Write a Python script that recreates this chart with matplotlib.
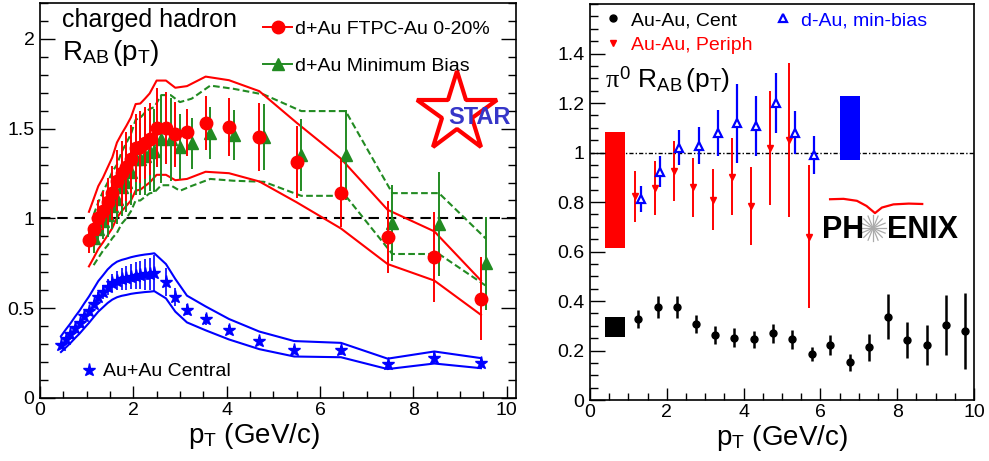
import numpy as np
import matplotlib
matplotlib.use("Agg")
import matplotlib.pyplot as plt
from matplotlib.lines import Line2D
from matplotlib.ticker import MultipleLocator, FixedLocator, FuncFormatter

plt.rcParams["font.family"] = ["Liberation Sans", "DejaVu Sans"]
plt.rcParams["mathtext.fontset"] = "custom"
plt.rcParams["mathtext.rm"] = "Liberation Sans"
plt.rcParams["mathtext.it"] = "Liberation Serif"

# --- STAR: d+Au FTPC-Au 0-20% (red circles) ---
ftpc_pt = [1.05, 1.15, 1.25, 1.35, 1.45, 1.55, 1.65, 1.75, 1.85, 1.95, 2.05, 2.15, 2.25,
           2.35, 2.5, 2.7, 2.9, 3.15, 3.55, 4.05, 4.7, 5.5, 6.45, 7.45, 8.45, 9.45]
ftpc_r = [0.880, 0.943, 1.004, 1.044, 1.093, 1.141, 1.211, 1.252, 1.289, 1.330, 1.393, 1.396,
          1.419, 1.443, 1.505, 1.505, 1.468, 1.479, 1.530, 1.510, 1.454, 1.316, 1.140, 0.898,
          0.787, 0.553]
ftpc_err = [0.075, 0.085, 0.10, 0.11, 0.13, 0.15, 0.17, 0.18, 0.19, 0.19, 0.19, 0.20, 0.20,
            0.20, 0.22, 0.20, 0.18, 0.13, 0.15, 0.16, 0.19, 0.20, 0.19, 0.20, 0.25, 0.23]
ftpc_hi = [1.037, 1.108, 1.180, 1.227, 1.284, 1.340, 1.423, 1.471, 1.515, 1.563, 1.637, 1.640,
           1.667, 1.696, 1.768, 1.768, 1.728, 1.737, 1.790, 1.770, 1.709, 1.533, 1.333, 1.048,
           0.928, 0.654]
ftpc_lo = [0.733, 0.780, 0.830, 0.866, 0.906, 0.946, 1.005, 1.040, 1.070, 1.100, 1.155, 1.160,
           1.180, 1.200, 1.243, 1.243, 1.213, 1.220, 1.260, 1.252, 1.206, 1.090, 0.944, 0.746,
           0.654, 0.463]

# --- STAR: d+Au minimum bias (green triangles) ---
mb_pt = [1.15, 1.25, 1.35, 1.45, 1.55, 1.65, 1.75, 1.85, 1.95, 2.05, 2.15, 2.25, 2.35, 2.45,
         2.6, 2.8, 3.0, 3.25, 3.65, 4.15, 4.8, 5.6, 6.55, 7.55, 8.55, 9.55]
mb_r = [0.889, 0.940, 0.983, 1.019, 1.071, 1.108, 1.173, 1.205, 1.257, 1.331, 1.331, 1.350,
        1.372, 1.378, 1.440, 1.440, 1.400, 1.418, 1.478, 1.463, 1.454, 1.355, 1.352, 0.975,
        0.970, 0.750]
mb_err = [0.08, 0.09, 0.10, 0.12, 0.13, 0.14, 0.16, 0.17, 0.18, 0.20, 0.20, 0.22, 0.22, 0.23,
          0.24, 0.23, 0.18, 0.14, 0.145, 0.14, 0.185, 0.20, 0.25, 0.21, 0.29, 0.26]
mb_hi = [1.02, 1.09, 1.15, 1.20, 1.26, 1.30, 1.37, 1.42, 1.47, 1.55, 1.56, 1.59, 1.61, 1.62,
         1.687, 1.687, 1.648, 1.667, 1.740, 1.722, 1.690, 1.598, 1.598, 1.141, 1.141, 0.889]
mb_lo = [0.74, 0.78, 0.82, 0.85, 0.89, 0.92, 0.97, 1.00, 1.04, 1.10, 1.10, 1.12, 1.14, 1.145,
         1.185, 1.185, 1.154, 1.181, 1.220, 1.210, 1.204, 1.126, 1.126, 0.802, 0.802, 0.626]

# --- STAR: Au+Au central (blue stars) ---
auau_pt = [0.45, 0.55, 0.65, 0.75, 0.85, 0.95, 1.05, 1.15, 1.25, 1.35, 1.45, 1.55, 1.65, 1.75,
           1.85, 1.95, 2.05, 2.15, 2.25, 2.35, 2.45, 2.7, 2.9, 3.15, 3.55, 4.05, 4.7, 5.45,
           6.45, 7.45, 8.45, 9.45]
auau_r = [0.296, 0.326, 0.356, 0.389, 0.419, 0.454, 0.487, 0.524, 0.561, 0.589, 0.617, 0.639,
          0.654, 0.663, 0.669, 0.676, 0.681, 0.685, 0.689, 0.691, 0.694, 0.646, 0.561, 0.491,
          0.439, 0.380, 0.317, 0.270, 0.265, 0.187, 0.224, 0.194]
auau_err = [0.01, 0.01, 0.01, 0.012, 0.012, 0.015, 0.015, 0.02, 0.03, 0.04, 0.045, 0.05, 0.055,
            0.06, 0.065, 0.07, 0.075, 0.08, 0.085, 0.09, 0.10, 0.08, 0.05, 0.03, 0.03, 0.025,
            0.02, 0.02, 0.025, 0.02, 0.03, 0.035]
auau_hi = [0.344, 0.380, 0.414, 0.452, 0.487, 0.527, 0.565, 0.608, 0.651, 0.683, 0.716, 0.741,
           0.759, 0.769, 0.776, 0.784, 0.790, 0.795, 0.799, 0.802, 0.806, 0.746, 0.663, 0.570,
           0.510, 0.440, 0.370, 0.317, 0.307, 0.219, 0.259, 0.222]
auau_lo = [0.256, 0.280, 0.305, 0.333, 0.359, 0.389, 0.418, 0.450, 0.481, 0.505, 0.529, 0.548,
           0.561, 0.569, 0.574, 0.580, 0.584, 0.587, 0.590, 0.592, 0.595, 0.555, 0.481, 0.421,
           0.377, 0.326, 0.272, 0.231, 0.227, 0.161, 0.192, 0.166]

# --- PHENIX pi0: Au-Au central (black) ---
cent_pt = [1.25, 1.76, 2.26, 2.76, 3.26, 3.76, 4.26, 4.77, 5.27, 5.77, 6.26, 6.77, 7.27,
           7.77, 8.26, 8.77, 9.27, 9.77]
cent_r = [0.327, 0.377, 0.377, 0.307, 0.263, 0.252, 0.245, 0.269, 0.246, 0.186, 0.222, 0.152,
          0.213, 0.337, 0.242, 0.222, 0.303, 0.279]
cent_err = [0.037, 0.045, 0.045, 0.037, 0.037, 0.037, 0.034, 0.037, 0.038, 0.030, 0.040, 0.033,
            0.054, 0.090, 0.073, 0.082, 0.121, 0.152]

# --- PHENIX pi0: Au-Au peripheral (red) ---
peri_pt = [1.17, 1.68, 2.18, 2.69, 3.19, 3.69, 4.19, 4.69, 5.18, 5.69]
peri_r = [0.823, 0.856, 0.926, 0.859, 0.810, 0.903, 0.783, 1.017, 1.051, 0.660]
peri_err = [0.104, 0.109, 0.120, 0.118, 0.125, 0.155, 0.158, 0.230, 0.310, 0.290]

# --- PHENIX pi0: d-Au min-bias (blue open) ---
dau_pt = [1.32, 1.82, 2.32, 2.83, 3.33, 3.83, 4.33, 4.83, 5.34, 5.84]
dau_r = [0.813, 0.923, 1.020, 1.027, 1.078, 1.118, 1.107, 1.200, 1.080, 0.989]
dau_err = [0.052, 0.062, 0.070, 0.075, 0.093, 0.160, 0.120, 0.120, 0.087, 0.077]

# normalisation uncertainty boxes (periph, cent, d-Au)
norm_x = [0.65, 0.65, 6.76]
norm_lo = [0.613, 0.256, 0.968]
norm_hi = [1.083, 0.334, 1.228]
norm_col = ["#ff0000", "#000000", "#0000ff"]

RED = "#ff0000"
GREEN = "#228b22"
BLUE = "#0000ff"
LABEL_FS = 14


def style_axes(ax, right_ticks):
    for s in ax.spines.values():
        s.set_linewidth(1.2)
    ax.tick_params(axis="both", which="both", direction="in", top=False,
                   right=right_ticks, labelsize=LABEL_FS, width=1)
    ax.tick_params(axis="y", which="major", length=11, pad=4)
    ax.tick_params(axis="y", which="minor", length=6)
    ax.tick_params(axis="x", which="major", length=9, pad=3)
    ax.tick_params(axis="x", which="minor", length=5)
    ax.xaxis.set_major_locator(MultipleLocator(2))
    ax.xaxis.set_minor_locator(MultipleLocator(0.5))
    fmt = FuncFormatter(lambda v, _: f"{v:g}")
    ax.xaxis.set_major_formatter(fmt)
    ax.yaxis.set_major_formatter(fmt)


def main():
    fig = plt.figure(figsize=(9.89, 4.61), dpi=100)
    axL = fig.add_axes([0.0404, 0.1367, 0.4813, 0.8568])
    axR = fig.add_axes([0.5966, 0.1323, 0.3883, 0.859])

    # ---------------- left: STAR charged hadrons ----------------
    axL.set_xlim(0, 10.2)
    axL.set_ylim(0, 2.2)
    style_axes(axL, True)
    axL.yaxis.set_major_locator(MultipleLocator(0.5))
    axL.yaxis.set_minor_locator(MultipleLocator(0.1))

    axL.axhline(1.0, color="black", lw=1.5, ls=(0, (5, 3.3)), zorder=1)

    gdash = (0, (3.2, 1.6))
    axL.plot(mb_pt, mb_hi, color=GREEN, lw=1.5, ls=gdash)
    axL.plot(mb_pt, mb_lo, color=GREEN, lw=1.5, ls=gdash)
    axL.plot(ftpc_pt, ftpc_hi, color=RED, lw=1.5)
    axL.plot(ftpc_pt, ftpc_lo, color=RED, lw=1.5)
    axL.plot(auau_pt, auau_hi, color=BLUE, lw=1.5)
    axL.plot(auau_pt, auau_lo, color=BLUE, lw=1.5)

    axL.errorbar(mb_pt, mb_r, yerr=mb_err, fmt="^", color=GREEN, ms=8.5,
                 elinewidth=1.4, capsize=0, zorder=3)
    axL.errorbar(ftpc_pt, ftpc_r, yerr=ftpc_err, fmt="o", color=RED, ms=9,
                 elinewidth=1.4, capsize=0, zorder=4)
    axL.errorbar(auau_pt, auau_r, yerr=auau_err, fmt="*", color=BLUE, ms=9.5,
                 elinewidth=1.2, capsize=0, zorder=4)

    axL.text(0.046, 0.939, "charged hadron", transform=axL.transAxes,
             fontsize=18, va="baseline")
    axL.text(0.046, 0.856, r"R$_{\rm AB}\,$(p$_{\rm T}$)", transform=axL.transAxes,
             fontsize=20, va="baseline")

    handles = [Line2D([], [], color=RED, marker="o", ms=9, lw=1.4),
               Line2D([], [], color=GREEN, marker="^", ms=8.5, lw=1.4)]
    leg = axL.legend(handles, ["d+Au FTPC-Au 0-20%", "d+Au Minimum Bias"],
                     loc="upper left", bbox_to_anchor=(0.44, 0.99), frameon=False,
                     fontsize=14, handlelength=1.5, handletextpad=0.15,
                     labelspacing=1.0, borderaxespad=0.3)
    axL.add_artist(leg)
    axL.legend([Line2D([], [], color=BLUE, marker="*", ms=9.5, lw=0)],
               ["Au+Au Central"], loc="lower left", bbox_to_anchor=(0.05, 0.0),
               frameon=False, fontsize=14, handlelength=0.8, handletextpad=0.3)

    # STAR logo
    axL.plot([0.876], [0.722], marker="*", ms=60, mfc="white", mec=RED, mew=3.0,
             transform=axL.transAxes, clip_on=False, zorder=5)
    axL.text(0.858, 0.694, "STAR", transform=axL.transAxes, fontsize=17,
             fontweight="bold", color="#3636c8", va="baseline", zorder=6)

    axL.set_xlabel(r"p$_{\rm T}$ (GeV/c)", fontsize=20, labelpad=1)
    axL.xaxis.label.set_x(0.45)

    # ---------------- right: PHENIX pi0 ----------------
    axR.set_xlim(0, 10)
    axR.set_ylim(0, 1.6)
    style_axes(axR, False)
    axR.yaxis.set_major_locator(FixedLocator([0, 0.2, 0.4, 0.6, 0.8, 1.0, 1.2, 1.4]))
    axR.yaxis.set_minor_locator(MultipleLocator(0.05))

    axR.axhline(1.0, color="black", lw=1.0, ls=(0, (3, 1.5, 1, 1.5)), zorder=1)

    for x, lo, hi, c in zip(norm_x, norm_lo, norm_hi, norm_col):
        axR.bar(x, hi - lo, bottom=lo, width=0.52, color=c, lw=0)

    axR.errorbar(peri_pt, peri_r, yerr=peri_err, fmt="v", color=RED, ms=4.5,
                 elinewidth=1.4, capsize=0)
    axR.errorbar(dau_pt, dau_r, yerr=dau_err, fmt="^", color=BLUE, mfc="white",
                 mec=BLUE, mew=1.6, ms=5.5, elinewidth=1.6, capsize=0)
    axR.errorbar(cent_pt, cent_r, yerr=cent_err, fmt="o", color="black", ms=5,
                 elinewidth=1.8, capsize=0)

    rh = [Line2D([], [], color="black", marker="o", ms=5, lw=0),
          Line2D([], [], color=RED, marker="v", ms=5, lw=0),
          Line2D([], [], color=BLUE, marker="^", ms=6, mfc="white", mew=1.6, lw=0)]
    rleg = axR.legend(rh, ["Au-Au, Cent", "Au-Au, Periph", "d-Au, min-bias"], ncol=2,
                      loc="upper left", bbox_to_anchor=(0.0, 1.015), frameon=False,
                      fontsize=14, handlelength=1.0, handletextpad=0.4,
                      columnspacing=1.1, labelspacing=0.35, borderaxespad=0.3)
    for t, c in zip(rleg.get_texts(), ["black", RED, BLUE]):
        t.set_color(c)

    axR.text(0.039, 0.788, r"$\pi^{0}$ R$_{\rm AB}\,$(p$_{\rm T}$)",
             transform=axR.transAxes, fontsize=19, va="baseline")

    # PHENIX logo
    axR.text(0.604, 0.409, "PH", transform=axR.transAxes, fontsize=22,
             fontweight="bold", va="baseline")
    axR.text(0.773, 0.409, "ENIX", transform=axR.transAxes, fontsize=22,
             fontweight="bold", va="baseline")
    cx, cy = 0.737, 0.434
    for a in np.linspace(0, np.pi, 8, endpoint=False):
        dx, dy = 0.034 * np.cos(a), 0.033 * np.sin(a)
        axR.plot([cx - dx, cx + dx], [cy - dy, cy + dy], color="#aaaaaa", lw=0.9,
                 transform=axR.transAxes)
    arc_x = [0.625, 0.660, 0.695, 0.720, 0.742, 0.760, 0.790, 0.830, 0.865]
    arc_y = [0.507, 0.508, 0.503, 0.490, 0.472, 0.486, 0.494, 0.496, 0.495]
    axR.plot(arc_x, arc_y, color=RED, lw=1.6, transform=axR.transAxes,
             solid_joinstyle="round")

    axR.set_xlabel(r"p$_{\rm T}$ (GeV/c)", fontsize=20, labelpad=1)

    fig.savefig("out.png", dpi=100)


if __name__ == "__main__":
    main()
